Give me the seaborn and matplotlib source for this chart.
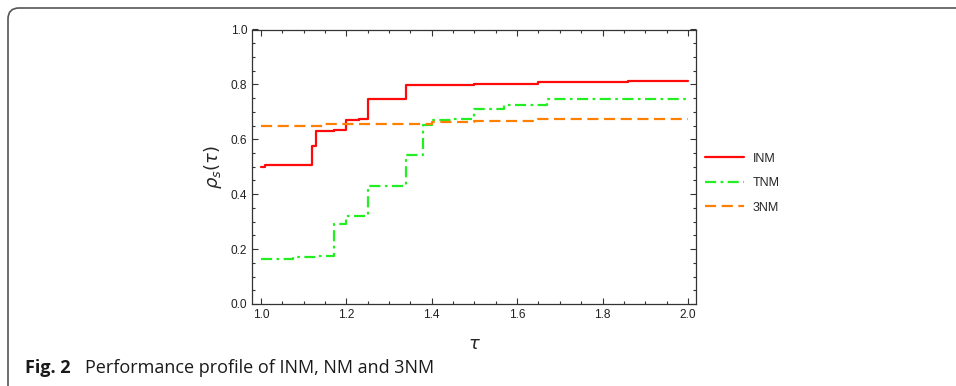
import matplotlib
matplotlib.use("Agg")
import matplotlib.pyplot as plt
from matplotlib.patches import FancyBboxPatch
from matplotlib.transforms import IdentityTransform
from matplotlib.ticker import MultipleLocator
import seaborn as sns

# performance profile data
inm_tau = [1.0, 1.01, 1.12, 1.13, 1.17, 1.20, 1.23, 1.25, 1.34, 1.50, 1.65, 1.86, 2.0]
inm_rho = [0.499, 0.506, 0.574, 0.631, 0.635, 0.669, 0.675, 0.745, 0.796, 0.802, 0.809, 0.814, 0.814]

tnm_tau = [1.0, 1.075, 1.13, 1.17, 1.20, 1.25, 1.34, 1.38, 1.40, 1.45, 1.50, 1.57, 1.67, 2.0]
tnm_rho = [0.164, 0.170, 0.176, 0.292, 0.321, 0.431, 0.543, 0.653, 0.669, 0.675, 0.712, 0.724, 0.745, 0.745]

nm3_tau = [1.0, 1.15, 1.40, 1.50, 1.65, 2.0]
nm3_rho = [0.649, 0.656, 0.662, 0.667, 0.674, 0.674]

labels = ["INM", "TNM", "3NM"]
caption_bold = "Fig. 2"
caption_text = "Performance profile of INM, NM and 3NM"

sns.set_style("ticks")
plt.rcParams['font.family'] = ['Liberation Sans', 'DejaVu Sans']

fig = plt.figure(figsize=(9.56, 3.86), dpi=100)
ax = fig.add_axes([252 / 956, 1 - 304 / 386, 444 / 956, 274.5 / 386])

sns.lineplot(x=inm_tau, y=inm_rho, ax=ax, drawstyle='steps-post', estimator=None,
             color='#ff0a0a', lw=1.6, label=labels[0])
sns.lineplot(x=tnm_tau, y=tnm_rho, ax=ax, drawstyle='steps-post', estimator=None,
             color='#22ee22', lw=1.6, linestyle=(0, (5, 2, 1.2, 2)), label=labels[1])
sns.lineplot(x=nm3_tau, y=nm3_rho, ax=ax, drawstyle='steps-post', estimator=None,
             color='#ff8000', lw=1.6, linestyle=(0, (5, 2.5)), label=labels[2])

ax.set_xlim(0.979, 2.019)
ax.set_ylim(0, 1)
ax.xaxis.set_major_locator(MultipleLocator(0.2))
ax.xaxis.set_minor_locator(MultipleLocator(0.05))
ax.yaxis.set_major_locator(MultipleLocator(0.2))
ax.yaxis.set_minor_locator(MultipleLocator(0.05))
ax.set_xticks([1.0, 1.2, 1.4, 1.6, 1.8, 2.0])
ax.set_xticklabels(['1.0', '1.2', '1.4', '1.6', '1.8', '2.0'])
ax.tick_params(which='both', direction='in', top=True, right=True, color='#333333', width=0.8)
ax.tick_params(which='major', length=4, labelsize=8.6, pad=3.5, labelcolor='#222222')
ax.tick_params(which='minor', length=2)
for s in ax.spines.values():
    s.set_color('#333333')
    s.set_linewidth(0.9)

ax.set_xlabel(r'$\tau$', fontsize=13, labelpad=11)
ax.set_ylabel(r'$\rho_s(\tau)$', fontsize=13, labelpad=5)

leg = ax.legend(loc='center left', bbox_to_anchor=(0.995, 0.44), frameon=False,
                fontsize=9, handlelength=3.1, labelspacing=1.0, handletextpad=0.7)

# rounded frame around the figure, in pixels
frame = FancyBboxPatch((8, -30), 1000, 386 - 8 + 30,
                       boxstyle="round,pad=0,rounding_size=11",
                       transform=IdentityTransform(), fill=False,
                       edgecolor='#555555', lw=1.2, clip_on=False)
fig.patches.append(frame)

fig.text(25 / 956, 1 - 368 / 386, caption_bold, fontsize=13, fontweight='bold',
         family='Open Sans', va='center', ha='left', color='#1a1a1a')
fig.text(85 / 956, 1 - 368 / 386, caption_text, fontsize=13,
         family='Open Sans', va='center', ha='left', color='#1a1a1a')

fig.savefig('out.png', dpi=100)
